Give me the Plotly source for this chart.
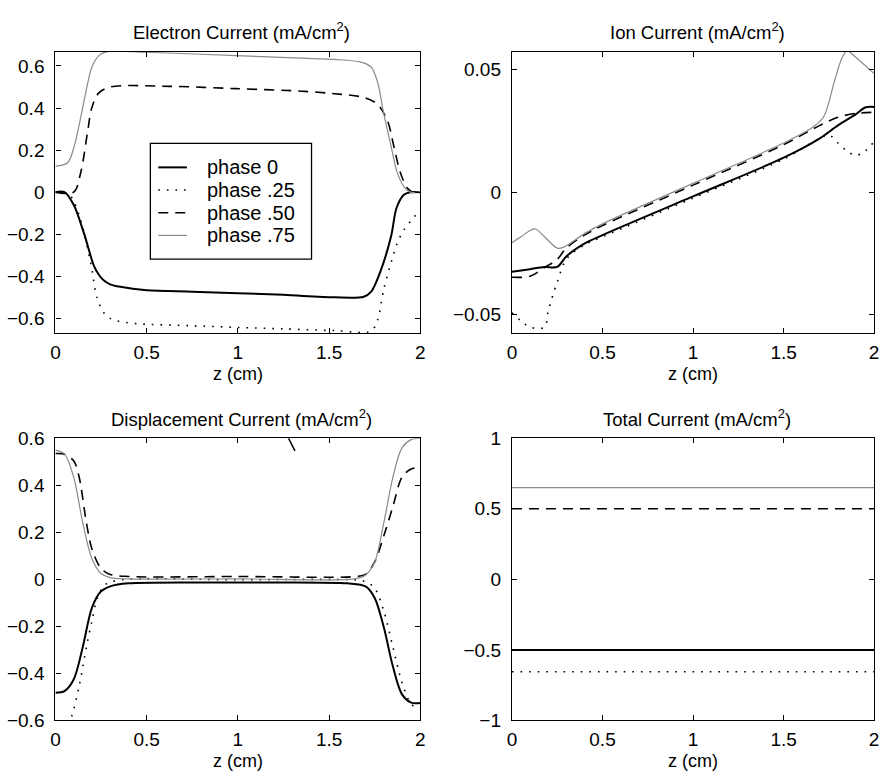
import plotly.graph_objects as go

# ---------------- data ----------------
phases = ["phase 0", "phase .25", "phase .50", "phase .75"]

# Electron current
e_z0 = [0, 0.05, 0.1, 0.157, 0.211, 0.24, 0.266, 0.3, 0.356, 0.5, 0.75, 1.0, 1.25, 1.53, 1.69, 1.73, 1.78, 1.84, 1.87, 1.91, 1.945, 2.0]
e_v0 = [0, 0, -0.06, -0.197, -0.35, -0.395, -0.42, -0.438, -0.45, -0.466, -0.473, -0.48, -0.488, -0.5, -0.497, -0.474, -0.38, -0.21, -0.074, -0.012, 0, 0]
e_z25 = [0, 0.05, 0.085, 0.139, 0.193, 0.229, 0.266, 0.3, 0.338, 0.446, 0.75, 1.0, 1.25, 1.53, 1.73, 1.765, 1.80, 1.84, 1.873, 1.91, 1.964, 1.98]
e_v25 = [0, -0.003, -0.02, -0.135, -0.335, -0.505, -0.574, -0.6, -0.612, -0.625, -0.635, -0.643, -0.65, -0.658, -0.66, -0.61, -0.46, -0.335, -0.243, -0.18, -0.12, -0.105]
e_z50 = [0, 0.1, 0.139, 0.175, 0.2, 0.238, 0.3, 0.627, 0.99, 1.35, 1.53, 1.69, 1.765, 1.82, 1.855, 1.89, 1.93, 1.96, 2.0]
e_v50 = [0, 0, 0.095, 0.28, 0.403, 0.472, 0.5, 0.503, 0.492, 0.48, 0.468, 0.45, 0.418, 0.34, 0.218, 0.095, 0.018, 0, 0]
e_z75 = [0, 0.067, 0.103, 0.139, 0.175, 0.2, 0.238, 0.284, 0.5, 0.99, 1.35, 1.53, 1.675, 1.73, 1.765, 1.80, 1.84, 1.873, 1.91, 1.945, 2.0]
e_v75 = [0.123, 0.14, 0.218, 0.357, 0.51, 0.595, 0.649, 0.668, 0.665, 0.649, 0.637, 0.631, 0.618, 0.595, 0.526, 0.372, 0.218, 0.095, 0.026, 0, 0]

# Ion current
i_z0 = [0, 0.1, 0.18, 0.25, 0.3, 0.4, 0.5, 1.0, 1.5, 1.7, 1.8, 1.9, 1.95, 2.0]
i_v0 = [-0.0325, -0.0314, -0.0305, -0.0305, -0.0262, -0.021, -0.0175, -0.0017, 0.0141, 0.022, 0.0273, 0.0319, 0.0346, 0.0348]
i_z25 = [0, 0.05, 0.1, 0.18, 0.2, 0.25, 0.3, 0.4, 0.5, 1.0, 1.5, 1.7, 1.75, 1.8, 1.85, 1.9, 1.95, 2.0]
i_v25 = [-0.0492, -0.0525, -0.0551, -0.0551, -0.0485, -0.0367, -0.0274, -0.0215, -0.0182, -0.0024, 0.0135, 0.022, 0.0234, 0.0201, 0.0168, 0.015, 0.0168, 0.0207]
i_z50 = [0, 0.1, 0.18, 0.25, 0.3, 0.4, 0.5, 1.0, 1.5, 1.7, 1.8, 1.9, 2.0]
i_v50 = [-0.0347, -0.0343, -0.0307, -0.0274, -0.0228, -0.0175, -0.0136, 0.0029, 0.0194, 0.0273, 0.0306, 0.0322, 0.0326]
i_z75 = [0, 0.05, 0.1, 0.13, 0.18, 0.25, 0.28, 0.4, 0.5, 1.0, 1.5, 1.65, 1.72, 1.78, 1.82, 1.85, 1.9, 1.95, 2.0]
i_v75 = [-0.0206, -0.0182, -0.0156, -0.015, -0.0182, -0.0228, -0.0226, -0.0169, -0.0129, 0.0036, 0.0201, 0.026, 0.0306, 0.0451, 0.0544, 0.0577, 0.055, 0.0517, 0.0484]

# Displacement current
d_z0 = [0, 0.05, 0.1, 0.15, 0.2, 0.25, 0.3, 0.4, 1.0, 1.6, 1.7, 1.75, 1.8, 1.85, 1.9, 1.95, 2.0]
d_v0 = [-0.482, -0.475, -0.426, -0.2875, -0.121, -0.051, -0.03, -0.017, -0.014, -0.017, -0.03, -0.079, -0.204, -0.371, -0.489, -0.524, -0.526]
d_z25 = [0.05, 0.09, 0.13, 0.17, 0.2, 0.23, 0.27, 0.35, 1.0, 1.65, 1.7, 1.75, 1.8, 1.85, 1.9, 1.95, 1.99]
d_v25 = [-0.65, -0.58, -0.454, -0.2875, -0.176, -0.079, -0.024, -0.003, -0.002, -0.003, -0.01, -0.0375, -0.135, -0.2875, -0.44, -0.53, -0.55]
d_z50 = [0, 0.05, 0.1, 0.13, 0.17, 0.2, 0.25, 0.3, 0.4, 1.0, 1.65, 1.7, 1.75, 1.8, 1.85, 1.9, 1.95, 2.0]
d_v50 = [0.535, 0.532, 0.504, 0.435, 0.24, 0.129, 0.046, 0.021, 0.012, 0.012, 0.012, 0.021, 0.074, 0.185, 0.31, 0.435, 0.469, 0.476]
d_z75 = [0, 0.05, 0.1, 0.15, 0.2, 0.25, 0.3, 0.4, 1.0, 1.65, 1.7, 1.75, 1.8, 1.85, 1.9, 1.95, 2.0]
d_v75 = [0.549, 0.532, 0.435, 0.24, 0.0875, 0.025, 0.007, 0.002, 0.002, 0.003, 0.018, 0.074, 0.24, 0.435, 0.56, 0.594, 0.6]
d_mark_z = [1.277, 1.313]
d_mark_v = [0.601, 0.546]

# Total current
t_z = [0, 2]
t_v0 = [-0.5, -0.5]
t_v25 = [-0.655, -0.655]
t_v50 = [0.5, 0.5]
t_v75 = [0.65, 0.65]

titles = ["Electron Current (mA/cm<sup>2</sup>)", "Ion Current (mA/cm<sup>2</sup>)",
          "Displacement Current (mA/cm<sup>2</sup>)", "Total Current (mA/cm<sup>2</sup>)"]
xlabel = "z (cm)"

# ---------------- styles ----------------
W, H = 892, 784
FONT = "Liberation Sans, Arial, Helvetica, sans-serif"
styles = [
    dict(color="black", width=2, dash="solid"),
    dict(color="black", width=1.6, dash="1.6px,7px"),
    dict(color="black", width=1.6, dash="10px,7px"),
    dict(color="#8a8a8a", width=1.2, dash="solid"),
]

panels = [
    ([(e_z0, e_v0), (e_z25, e_v25), (e_z50, e_v50), (e_z75, e_v75)], [-0.67, 0.667], [-0.6, -0.4, -0.2, 0, 0.2, 0.4, 0.6]),
    ([(i_z0, i_v0), (i_z25, i_v25), (i_z50, i_v50), (i_z75, i_v75)], [-0.0575, 0.0573], [-0.05, 0, 0.05]),
    ([(d_z0, d_v0), (d_z25, d_v25), (d_z50, d_v50), (d_z75, d_v75)], [-0.6, 0.6], [-0.6, -0.4, -0.2, 0, 0.2, 0.4, 0.6]),
    ([(t_z, t_v0), (t_z, t_v25), (t_z, t_v50), (t_z, t_v75)], [-1, 1], [-1, -0.5, 0, 0.5, 1]),
]

# pixel boxes of plot areas (left, right, top, bottom)
boxes = [(51, 420, 43, 332), (512.7, 879, 43, 332), (51, 420, 440, 730), (512.7, 879, 440, 730)]

fig = go.Figure()
annotations = []
shapes = []
layout = dict(
    width=W, height=H, margin=dict(l=0, r=0, t=0, b=0),
    paper_bgcolor="white", plot_bgcolor="white",
    font=dict(family=FONT, color="black", size=18),
    showlegend=False,
)

for k, (series, yr, yt) in enumerate(panels):
    l, r, t, b = boxes[k]
    sfx = "" if k == 0 else str(k + 1)
    xa, ya = "x" + sfx, "y" + sfx
    common = dict(showline=True, linecolor="black", linewidth=1.3, mirror="allticks",
                  ticks="inside", ticklen=5, tickwidth=1.2, tickcolor="black",
                  showgrid=False, zeroline=False, tickfont=dict(size=19, family=FONT, color="black"))
    layout["xaxis" + sfx] = dict(domain=[l / W, r / W], anchor=ya, range=[0, 2],
                                 tickvals=[0, 0.5, 1, 1.5, 2], ticklabelstandoff=2, **common)
    layout["yaxis" + sfx] = dict(domain=[1 - b / H, 1 - t / H], anchor=xa, range=yr,
                                 tickvals=yt, ticklabelstandoff=6, **common)
    for j, (zz, vv) in enumerate(series):
        fig.add_trace(go.Scatter(x=zz, y=vv, mode="lines", name=phases[j],
                                 line=dict(shape="spline", smoothing=0.9, **styles[j]),
                                 xaxis=xa, yaxis=ya, showlegend=False, cliponaxis=True))
    cx = (l + r) / 2 / W
    annotations.append(dict(text=titles[k], x=cx + 4 / W, y=1 - (t - 21) / H, xref="paper", yref="paper",
                            xanchor="center", yanchor="middle", showarrow=False,
                            font=dict(size=18.5, family=FONT, color="black")))
    annotations.append(dict(text=xlabel, x=cx, y=1 - (b + 42) / H, xref="paper", yref="paper",
                            xanchor="center", yanchor="middle", showarrow=False,
                            font=dict(size=18, family=FONT, color="black")))

fig.add_trace(go.Scatter(x=d_mark_z, y=d_mark_v, mode="lines", line=dict(color="black", width=1.5),
                         xaxis="x3", yaxis="y3", showlegend=False, hoverinfo="skip"))

# ---------------- legend box (top-left panel) ----------------
lg_l, lg_r, lg_t, lg_b = 147, 310, 137, 256
shapes.append(dict(type="rect", xref="paper", yref="paper",
                   x0=lg_l / W, x1=lg_r / W, y0=1 - lg_b / H, y1=1 - lg_t / H,
                   line=dict(color="black", width=1.3), fillcolor="white", layer="above"))
for j, name in enumerate(phases):
    yc = 161.7 + j * 23.3
    shapes.append(dict(type="line", xref="paper", yref="paper",
                       x0=155 / W, x1=184 / W, y0=1 - yc / H, y1=1 - yc / H,
                       line=styles[j], layer="above"))
    annotations.append(dict(text=name, x=202 / W, y=1 - yc / H, xref="paper", yref="paper",
                            xanchor="left", yanchor="middle", showarrow=False,
                            font=dict(size=20, family=FONT, color="black")))

layout["annotations"] = annotations
layout["shapes"] = shapes
fig.update_layout(**layout)
fig.write_html("out.html")
